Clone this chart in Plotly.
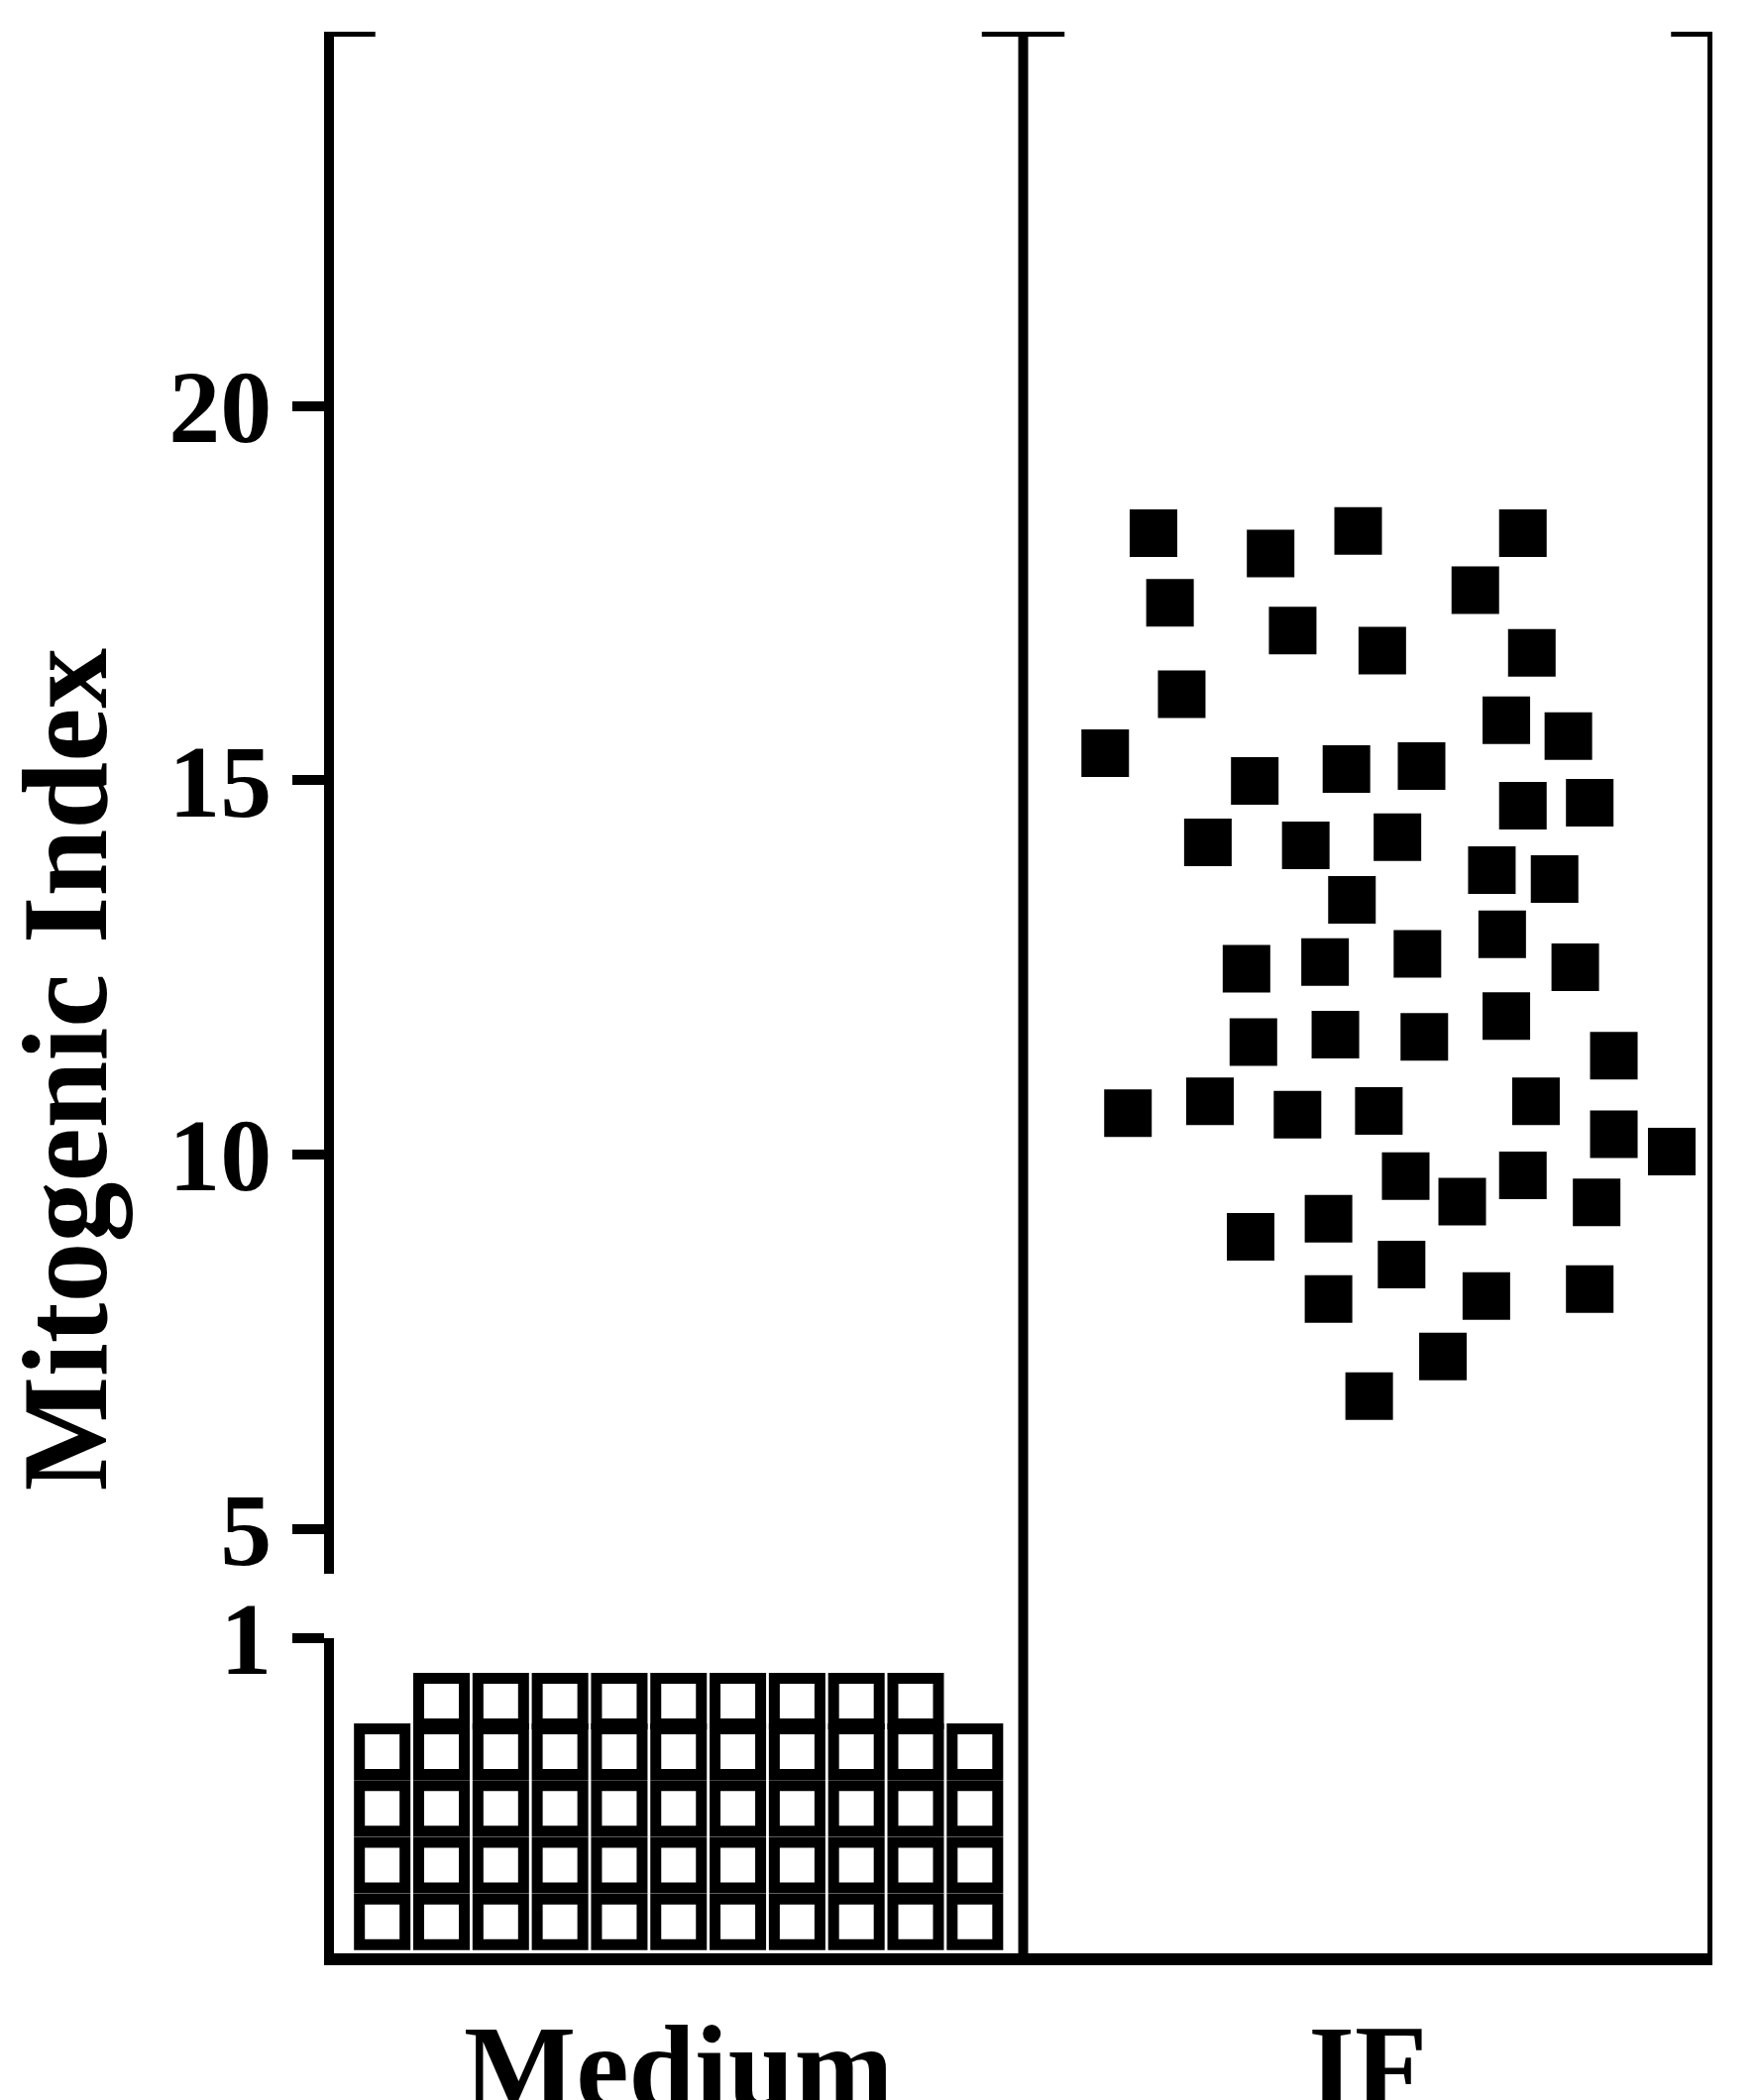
import plotly.graph_objects as go

# Medium group: stacked open squares (column offset, value)
medium_cols = [-0.43, -0.344, -0.258, -0.172, -0.086, 0.0, 0.086, 0.172, 0.258, 0.344, 0.43]
medium_rows = [0.10, 0.28, 0.46, 0.64, 0.80]
medium_top_cols = medium_cols[1:10]

# IF group: scattered filled squares
if_x = [0.689, 0.859, 0.986, 1.225, 0.713, 1.156, 0.891, 1.021, 1.238, 0.730,
        1.201, 1.291, 0.619, 0.836, 0.969, 1.078, 1.225, 1.322, 0.768, 0.910,
        1.043, 1.180, 1.271, 0.977, 1.195, 0.824, 0.938, 1.072, 1.301, 1.201,
        0.834, 0.953, 1.082, 1.357, 0.652, 0.771, 0.898, 1.016, 1.244, 1.357,
        1.441, 1.055, 1.137, 1.225, 1.332, 0.830, 0.943, 1.049, 0.943, 1.172,
        1.322, 1.109, 1.002]
if_y = [18.30, 18.03, 18.33, 18.30, 17.37, 17.54, 17.00, 16.73, 16.70, 16.15,
        15.80, 15.59, 15.36, 14.99, 15.15, 15.19, 14.66, 14.70, 14.17, 14.13,
        14.24, 13.80, 13.68, 13.40, 12.94, 12.48, 12.57, 12.68, 12.50, 11.85,
        11.50, 11.60, 11.57, 11.32, 10.55, 10.71, 10.53, 10.58, 10.71, 10.27,
        10.04, 9.71, 9.37, 9.72, 9.36, 8.90, 9.14, 8.53, 8.07, 8.11,
        8.20, 7.30, 6.77]

categories = ["Medium", "IF"]

med_x, med_y = [], []
for i, r in enumerate(medium_rows):
    cols = medium_top_cols if i == len(medium_rows) - 1 else medium_cols
    for c in cols:
        med_x.append(c)
        med_y.append(r)

FONT = "Liberation Serif"
LW = 10
fig = go.Figure()
fig.add_trace(go.Scatter(x=med_x, y=med_y, mode="markers", yaxis="y", cliponaxis=False,
                         marker=dict(symbol="square", size=46, color="white",
                                     line=dict(color="black", width=11))))
fig.add_trace(go.Scatter(x=if_x, y=if_y, mode="markers", yaxis="y2", cliponaxis=False,
                         marker=dict(symbol="square", size=48, color="black")))

# dividers and top caps
for xv in [0.5, 1.5]:
    fig.add_shape(type="line", xref="x", yref="paper", x0=xv, x1=xv, y0=0, y1=1,
                  line=dict(color="black", width=LW))
for xv in [-0.5, 0.5, 1.5]:
    fig.add_shape(type="line", xref="x", yref="y2", x0=xv - 0.06, x1=xv + 0.06,
                  y0=25, y1=25, line=dict(color="black", width=LW))

fig.add_annotation(text="<b>Mitogenic Index</b>", textangle=-90, xref="paper", yref="paper",
                   x=-0.245, y=0.46, showarrow=False, font=dict(family=FONT, size=122, color="black"))

fig.update_layout(
    width=1774, height=2119, showlegend=False,
    plot_bgcolor="white", paper_bgcolor="white",
    margin=dict(l=329, r=54, t=24, b=156, autoexpand=False),
    xaxis=dict(range=[-0.5, 1.5], tickvals=[0, 1], ticktext=["<b>Medium</b>", "<b>IF</b>"],
               showline=True, linecolor="black", linewidth=12, ticks="", showgrid=False,
               zeroline=False, anchor="y", automargin=False,
               tickfont=dict(family=FONT, size=120, color="black")),
    yaxis=dict(domain=[0, 0.164], range=[0, 1], tickvals=[1], ticktext=["<b>1</b>"],
               showline=True, linecolor="black", linewidth=LW, ticks="outside", ticklen=32,
               tickwidth=LW, tickcolor="black", showgrid=False, zeroline=False, automargin=False,
               tickfont=dict(family=FONT, size=104, color="black")),
    yaxis2=dict(domain=[0.1976, 1], range=[4.4, 25], tickvals=[5, 10, 15, 20],
                ticktext=["<b>5</b>", "<b>10</b>", "<b>15</b>", "<b>20</b>"],
                showline=True, linecolor="black", linewidth=LW, ticks="outside", ticklen=32,
                tickwidth=LW, tickcolor="black", showgrid=False, zeroline=False, anchor="x",
                automargin=False, tickfont=dict(family=FONT, size=104, color="black")),
)
fig.write_html("out.html")
